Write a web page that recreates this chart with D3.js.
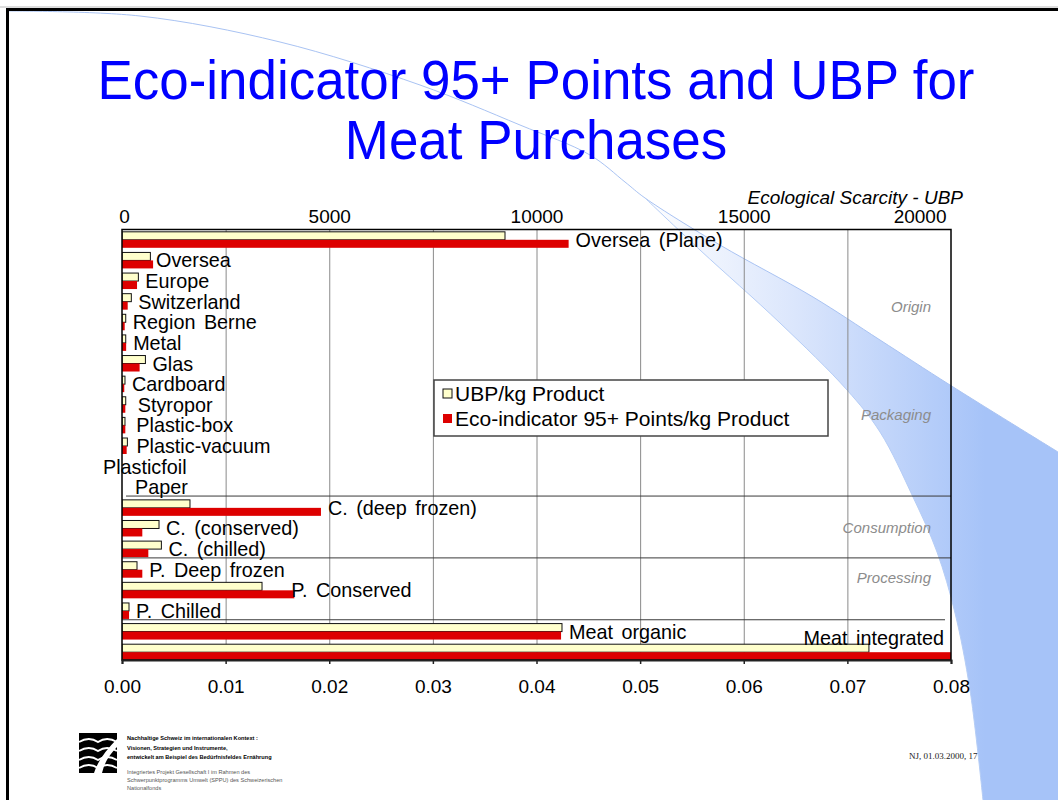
<!DOCTYPE html>
<html>
<head>
<meta charset="utf-8">
<script src="https://cdn.jsdelivr.net/npm/d3@7"></script>
<style>
    body { margin: 0; background: #fff; }
    svg { display: block; font-family: Arial, "Liberation Sans", sans-serif; }
</style>
</head>
<body>
<svg id="slide" width="1058" height="800"></svg>
<script>
// --- data ---
const categories = ["Oversea (Plane)", "Oversea", "Europe", "Switzerland", "Region Berne",
    "Metal", "Glas", "Cardboard", "Styropor", "Plastic-box", "Plastic-vacuum", "Plasticfoil", "Paper",
    "C. (deep frozen)", "C. (conserved)", "C. (chilled)",
    "P. Deep frozen", "P. Conserved", "P. Chilled",
    "Meat organic", "Meat integrated"];
// UBP per kg product (top axis)
const ubpValues = [9240, 685, 395, 225, 90, 90, 565, 72, 90, 72, 130, 0, 0,
    1640, 893, 950, 362, 3378, 169, 10615, 18020];
// Eco-indicator 95+ points per kg product (bottom axis)
const ecoValues = [0.0431, 0.0030, 0.00145, 0.00055, 0.00026, 0.0004, 0.0017, 0.00022, 0.00032, 0.00032, 0.00045, 0, 0,
    0.0192, 0.00196, 0.00254, 0.00196, 0.01663, 0.00068, 0.04237, 0.0845];
const seriesNames = ["UBP/kg Product", "Eco-indicator 95+ Points/kg Product"];
const seriesColors = ["#ffffcc", "#dd0000"];

const groupNames = ["Origin", "Packaging", "Consumption", "Processing"];
const groupFirst = ["Oversea (Plane)", "Metal", "C. (deep frozen)", "P. Deep frozen"];
const groupLast = ["Region Berne", "Paper", "C. (chilled)", "P. Chilled"];
const separatorsBefore = ["C. (deep frozen)", "P. Deep frozen", "Meat organic"];

const ubpTicks = [0, 5000, 10000, 15000, 20000];
const ecoTicks = [0, 0.01, 0.02, 0.03, 0.04, 0.05, 0.06, 0.07, 0.08];

const titleLines = ["Eco-indicator 95+ Points and UBP for", "Meat Purchases"];
const topAxisTitle = "Ecological Scarcity - UBP";
const footerBold = ["Nachhaltige Schweiz im internationalen Kontext :",
    "Visionen, Strategien und Instrumente,",
    "entwickelt am Beispiel des Bedürfnisfeldes Ernährung"];
const footerPlain = ["Integriertes Projekt Gesellschaft I im Rahmen des",
    "Schwerpunktprogramms Umwelt (SPPU) des Schweizerischen",
    "Nationalfonds"];
const footerRight = "NJ,  01.03.2000, 17";

// --- layout ---
const plot = {left: 122, right: 951, top: 229.5, bottom: 660};
// the slide's data labels were hand-placed, these are the small nudges
const labelNudge = {"Oversea": -4, "Styropor": 5, "Plastic-box": 4, "Plastic-vacuum": 2,
    "Plasticfoil": -26, "Paper": 6, "P. Conserved": -10};
const groupNudge = {"Origin": 26, "Processing": -12};

const svg = d3.select("#slide");

// slide background + swoosh
svg.append("rect").attr("width", 1058).attr("height", 800).attr("fill", "#fff");

const defs = svg.append("defs");
const grad = defs.append("linearGradient")
    .attr("id", "swooshGrad")
    .attr("gradientUnits", "userSpaceOnUse")
    .attr("x1", 640).attr("y1", 0).attr("x2", 985).attr("y2", 0);
grad.append("stop").attr("offset", 0).attr("stop-color", "#ffffff");
grad.append("stop").attr("offset", 0.45).attr("stop-color", "#dbe6fc");
grad.append("stop").attr("offset", 1).attr("stop-color", "#a6c3f8");

const curve = d3.line().curve(d3.curveCatmullRom);
const thinLine = [[8, 11], [140, 16], [280, 42], [420, 85], [520, 125], [590, 155], [625, 182], [645, 198]];
const upperEdge = [[645, 198], [720, 245], [813, 297], [880, 340], [950, 385], [1058, 452]];
const lowerEdge = [[645, 198], [700, 250], [780, 323], [847, 390], [880, 432], [913, 497],
    [937, 552], [955, 613], [970, 690], [983, 800]];

svg.append("path")
    .attr("d", curve(upperEdge) + "L1058,800L983,800" + curve(lowerEdge.slice().reverse()).replace(/^M/, "L") + "Z")
    .attr("fill", "url(#swooshGrad)");
svg.append("path")
    .attr("d", curve(thinLine.concat(upperEdge.slice(1))))
    .attr("fill", "none").attr("stroke", "#a9c3f3").attr("stroke-width", 1);
svg.append("path")
    .attr("d", curve(lowerEdge))
    .attr("fill", "none").attr("stroke", "#b5cdf6").attr("stroke-width", 1);

// slide frame
svg.append("line").attr("x1", 0).attr("x2", 1058).attr("y1", 7).attr("y2", 7)
    .attr("stroke", "#bbb").attr("stroke-width", 1);
svg.append("line").attr("x1", 6).attr("x2", 1058).attr("y1", 9.5).attr("y2", 9.5)
    .attr("stroke", "#000").attr("stroke-width", 3);
svg.append("line").attr("x1", 7.5).attr("x2", 7.5).attr("y1", 8).attr("y2", 800)
    .attr("stroke", "#000").attr("stroke-width", 3);

// title (the slide font is a little condensed)
svg.append("g").selectAll("text")
    .data(titleLines)
    .enter().append("text")
    .attr("transform", function(d, i) { return "translate(536," + (99 + i * 60) + ") scale(0.945,1)"; })
    .attr("text-anchor", "middle")
    .attr("font-size", 56)
    .attr("fill", "#0000ff")
    .text(function(d) { return d; });

// scales
const x = d3.scaleLinear().domain([0, 0.08]).range([plot.left, plot.right]).clamp(true);
const xu = d3.scaleLinear().domain([0, 20000]).range([plot.left, plot.right]).clamp(true);
const y = d3.scaleBand().domain(categories).range([plot.top, plot.bottom + 2.5]);
const sub = d3.scaleBand().domain(["ubp", "eco"]).range([0, y.bandwidth()]).paddingOuter(0.29);
const split = sub("eco");

const chart = svg.append("g");

defs.append("clipPath").attr("id", "plotClip")
    .append("rect")
    .attr("x", plot.left).attr("y", plot.top)
    .attr("width", plot.right - plot.left).attr("height", plot.bottom - plot.top);

// gridlines
chart.append("g")
    .attr("transform", "translate(0," + plot.bottom + ")")
    .call(d3.axisBottom(x).tickValues(ecoTicks.slice(1, -1)).tickSize(-(plot.bottom - plot.top)).tickFormat(""))
    .call(function(g) { g.select(".domain").remove(); })
    .selectAll("line").attr("stroke", "#8a8a8a");

// group separators
chart.append("g").selectAll("line")
    .data(separatorsBefore)
    .enter().append("line")
    .attr("x1", function(d, i) { return i === 0 ? plot.left + 4 : plot.left; })
    .attr("x2", function(d, i) { return i === separatorsBefore.length - 1 ? plot.right - 6 : plot.right; })
    .attr("y1", function(d) { return y(d) - 1.5; })
    .attr("y2", function(d) { return y(d) - 1.5; })
    .attr("stroke", "#3a3a3a").attr("stroke-width", 1);

// bars
const bars = chart.append("g").attr("clip-path", "url(#plotClip)");
bars.selectAll("rect.ubp")
    .data(categories)
    .enter().append("rect")
    .attr("class", "ubp")
    .attr("x", plot.left)
    .attr("y", function(d) { return y(d) + sub("ubp"); })
    .attr("width", function(d, i) { return xu(ubpValues[i]) - plot.left; })
    .attr("height", sub.bandwidth())
    .attr("fill", seriesColors[0])
    .attr("stroke", function(d, i) { return ubpValues[i] > 0 ? "#111" : "none"; })
    .attr("stroke-width", 1);
bars.selectAll("rect.eco")
    .data(categories)
    .enter().append("rect")
    .attr("class", "eco")
    .attr("x", plot.left)
    .attr("y", function(d) { return y(d) + sub("eco"); })
    .attr("width", function(d, i) { return x(ecoValues[i]) - plot.left; })
    .attr("height", sub.bandwidth())
    .attr("fill", seriesColors[1]);

// plot frame
chart.append("rect")
    .attr("x", plot.left).attr("y", plot.top)
    .attr("width", plot.right - plot.left).attr("height", plot.bottom - plot.top)
    .attr("fill", "none").attr("stroke", "#000").attr("stroke-width", 1.5);

// bottom axis (Eco-indicator points)
const bottomAxis = chart.append("g")
    .attr("transform", "translate(0," + plot.bottom + ")")
    .call(d3.axisBottom(x).tickValues(ecoTicks).tickSize(4).tickPadding(15.5).tickFormat(d3.format(".2f")));
bottomAxis.select(".domain").attr("stroke", "#222").attr("stroke-width", 2);
bottomAxis.selectAll("line").attr("stroke", "#222").attr("stroke-width", 1.5);
bottomAxis.selectAll("text").attr("font-size", 19).attr("font-family", "Arial, 'Liberation Sans', sans-serif").attr("fill", "#000");

// top axis (UBP)
const topAxis = chart.append("g")
    .attr("transform", "translate(0," + plot.top + ")")
    .call(d3.axisTop(xu).tickValues(ubpTicks).tickSize(0).tickPadding(6.5).tickFormat(d3.format("d")));
topAxis.select(".domain").remove();
topAxis.selectAll("text").attr("font-size", 19).attr("font-family", "Arial, 'Liberation Sans', sans-serif").attr("fill", "#000");
topAxis.selectAll(".tick").filter(function(d) { return d === 0; }).select("text").attr("x", 2);
topAxis.selectAll(".tick").filter(function(d) { return d === 20000; }).select("text")
    .attr("text-anchor", "end").attr("x", -5);

svg.append("text")
    .attr("x", 963).attr("y", 204)
    .attr("text-anchor", "end")
    .attr("font-size", 19).attr("font-style", "italic")
    .text(topAxisTitle);

// group labels
chart.append("g").selectAll("text")
    .data(groupNames)
    .enter().append("text")
    .attr("x", 931)
    .attr("y", function(d, i) {
        const mid = (y(groupFirst[i]) + y(groupLast[i]) + y.bandwidth()) / 2;
        return mid + 5 + (groupNudge[d] || 0);
    })
    .attr("text-anchor", "end")
    .attr("font-size", 15).attr("font-style", "italic")
    .attr("fill", "#8c8c8c")
    .text(function(d) { return d; });

// category labels next to the bars
chart.append("g").selectAll("text")
    .data(categories)
    .enter().append("text")
    .attr("x", function(d, i) {
        if (d === "Meat integrated") return plot.right - 7;
        const end = Math.max(xu(ubpValues[i]), x(ecoValues[i]));
        return end + 7 + (labelNudge[d] || 0);
    })
    .attr("y", function(d) {
        return y(d) + split + 7 + (d === "Meat integrated" ? -14 : 0);
    })
    .attr("text-anchor", function(d) { return d === "Meat integrated" ? "end" : "start"; })
    .attr("font-size", 19.8)
    .attr("word-spacing", 3)
    .text(function(d) { return d; });

// legend
const legend = svg.append("g").attr("transform", "translate(434,380)");
legend.append("rect")
    .attr("width", 394).attr("height", 56)
    .attr("fill", "#fff").attr("stroke", "#444").attr("stroke-width", 1.5);
const item = legend.selectAll("g.item")
    .data(seriesNames)
    .enter().append("g")
    .attr("class", "item")
    .attr("transform", function(d, i) { return "translate(9," + (9 + i * 25) + ")"; });
item.append("rect")
    .attr("width", 9).attr("height", 9)
    .attr("fill", function(d, i) { return seriesColors[i]; })
    .attr("stroke", function(d, i) { return i === 0 ? "#111" : "none"; });
item.append("text")
    .attr("x", 12).attr("y", 12)
    .attr("font-size", 21)
    .text(function(d) { return d; });

// footer: logo + project text
const logo = svg.append("g").attr("transform", "translate(79,733)");
logo.append("rect").attr("width", 38).attr("height", 40).attr("fill", "#000");
logo.selectAll("path.stripe")
    .data([9, 18, 27, 35])
    .enter().append("path")
    .attr("class", "stripe")
    .attr("d", function(d) { return "M0," + d + "Q10," + (d - 6) + " 19," + d + "Q28," + (d - 6) + " 38," + d; })
    .attr("fill", "none").attr("stroke", "#fff").attr("stroke-width", 2);
logo.append("path")
    .attr("d", "M15,40 Q20,24 38,6 L38,14 Q26,26 23,40 Z")
    .attr("fill", "#fff");

const foot = svg.append("g").attr("transform", "translate(127,0)");
foot.selectAll("text.b")
    .data(footerBold)
    .enter().append("text")
    .attr("class", "b")
    .attr("y", function(d, i) { return 740 + i * 9.5; })
    .attr("font-size", 5.6).attr("font-weight", "bold")
    .text(function(d) { return d; });
foot.selectAll("text.p")
    .data(footerPlain)
    .enter().append("text")
    .attr("class", "p")
    .attr("y", function(d, i) { return 774 + i * 7.8; })
    .attr("font-size", 5.6).attr("fill", "#555")
    .text(function(d) { return d; });

svg.append("text")
    .attr("x", 909).attr("y", 759)
    .attr("font-family", "'Liberation Serif', 'DejaVu Serif', serif")
    .attr("font-size", 9).attr("fill", "#222")
    .text(footerRight);
</script>
</body>
</html>
